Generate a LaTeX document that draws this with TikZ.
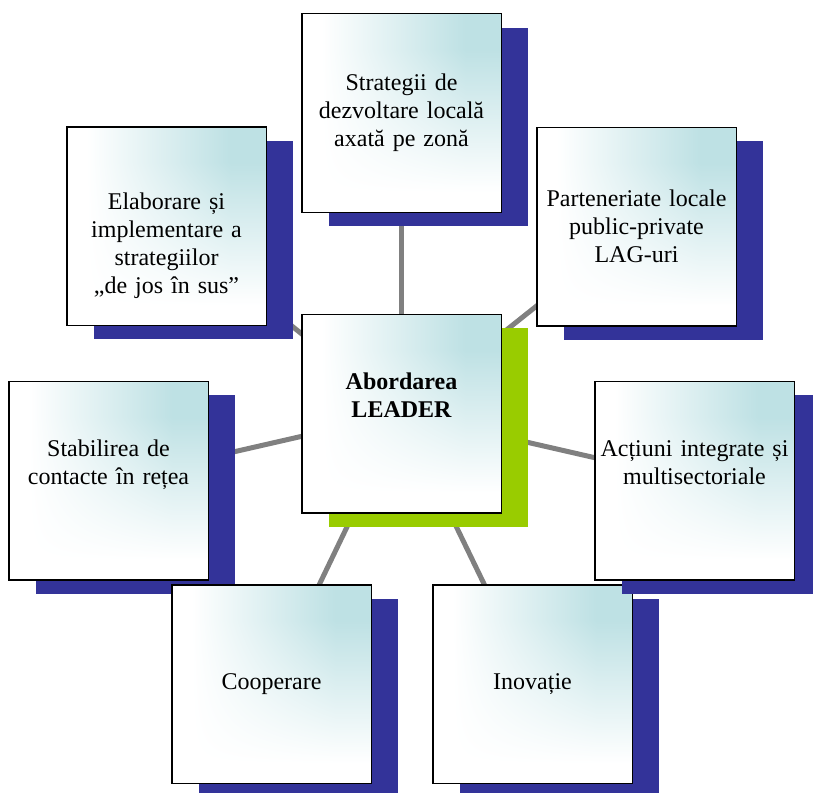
\documentclass[tikz,border=0pt]{standalone}
\usepackage{fontspec}
\setmainfont{Liberation Serif}
\usetikzlibrary{shadows,backgrounds}
\definecolor{shblue}{RGB}{51,51,153}
\definecolor{shgreen}{RGB}{153,204,0}
\definecolor{linkgray}{RGB}{128,128,128}
\pgfdeclarefunctionalshading{boxgrad}{\pgfpointorigin}{\pgfpoint{100bp}{100bp}}{}{%
  25 sub 50 div 0.1 sub 0.72 div dup 0 lt {pop 0} if dup 1 gt {pop 1} if
  exch
  25 sub 50 div 0.1 sub 0.72 div dup 0 lt {pop 0} if dup 1 gt {pop 1} if
  mul
  dup 0.255 mul 1 exch sub
  exch dup 0.118 mul 1 exch sub
  exch 0.106 mul 1 exch sub
}
\tikzset{
  boxbase/.style={draw=black, line width=1.5pt, shade, shading=boxgrad,
    minimum width=199.5pt, minimum height=198.5pt, inner sep=0pt,
    align=center, text width=196pt, font=\fontsize{24}{28}\selectfont},
  box/.style={boxbase, drop shadow={shadow xshift=27pt, shadow yshift=-14pt, fill=shblue, opacity=1}},
  hub/.style={boxbase, font=\fontsize{24}{28}\selectfont\bfseries,
    drop shadow={shadow xshift=27pt, shadow yshift=-14pt, fill=shgreen, opacity=1}},
  link/.style={draw=linkgray, line width=5pt}
}
\begin{document}
\begin{tikzpicture}[x=1pt,y=-1pt]
\path[use as bounding box] (0,0) rectangle (813,792);
\node[box] (strat) at (401.5,113) {Strategii de\\dezvoltare locală\\axată pe zonă};
\node[box] (elab) at (166.5,226) {\strut\\[9pt]Elaborare și\\implementare a\\strategiilor\\„de jos în sus”};
\node[box] (part) at (636.5,226.5) {Parteneriate locale\\public-private\\LAG-uri};
\node[hub] (hubnode) at (401.5,413.5) {Abordarea\\LEADER\\\strut};
\node[box] (stab) at (108.5,480.5) {Stabilirea de\\contacte în rețea\\\strut};
\node[box] (coop) at (271.5,684) {Cooperare};
\node[box] (inov) at (532.5,684) {Inovație};
\node[box] (act) at (694.5,480.5) {Acțiuni integrate și\\multisectoriale\\\strut};
\begin{pgfonlayer}{background}
\draw[link] (hubnode.center) -- (strat.center);
\draw[link] (hubnode.center) -- (elab.center);
\draw[link] (hubnode.center) -- (part.center);
\draw[link] (hubnode.center) -- (stab.center);
\draw[link] (hubnode.center) -- (act.center);
\draw[link] (hubnode.center) -- (coop.center);
\draw[link] (hubnode.center) -- (inov.center);
\end{pgfonlayer}
\end{tikzpicture}
\end{document}
